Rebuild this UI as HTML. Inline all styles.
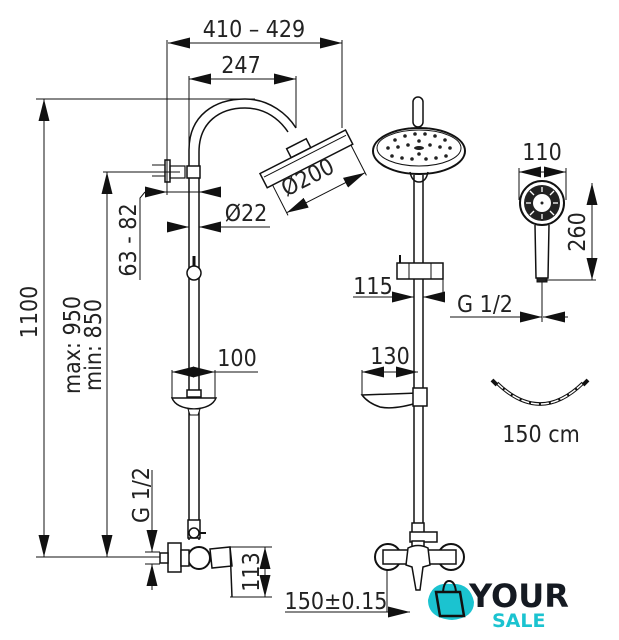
<!DOCTYPE html>
<html><head><meta charset="utf-8"><style>
html,body{margin:0;padding:0;background:#fff;width:619px;height:640px;overflow:hidden}
svg{display:block}
text{font-family:"DejaVu Sans Condensed","Liberation Sans Narrow","Liberation Sans",sans-serif;fill:#222;font-weight:300}
</style></head><body>
<svg width="619" height="640" viewBox="0 0 619 640" xmlns="http://www.w3.org/2000/svg">
<defs>
<marker id="b" viewBox="0 0 20 10" refX="20" refY="5" markerWidth="22" markerHeight="11" markerUnits="userSpaceOnUse" orient="auto-start-reverse"><path d="M0,0 L20,5 L0,10 z" fill="#111"/></marker>
</defs>
<g stroke="#111" fill="none" stroke-width="1">
<line x1="168" y1="43" x2="342" y2="43" marker-start="url(#b)" marker-end="url(#b)"/>
<line x1="189" y1="79" x2="296" y2="79" marker-start="url(#b)" marker-end="url(#b)"/>
<line x1="167" y1="40" x2="167" y2="195"/>
<line x1="189" y1="76" x2="189" y2="165"/>
<line x1="296" y1="76" x2="296" y2="128"/>
<line x1="342" y1="40" x2="342" y2="128"/>
<line x1="36" y1="99" x2="255" y2="99"/>
<line x1="44" y1="99" x2="44" y2="557" marker-start="url(#b)" marker-end="url(#b)"/>
<line x1="103" y1="172" x2="180" y2="172"/>
<line x1="107" y1="172" x2="107" y2="557" marker-start="url(#b)" marker-end="url(#b)"/>
<line x1="36" y1="557" x2="165" y2="557"/>
<path d="M189,165 L189,150 C189,115 215,99 245,99 C270,99 288,115 296,128" stroke-width="1.5"/>
<path d="M199,165 L199,152 C199,122 220,108 245,108 C266,108 280,120 288,132" stroke-width="1.5"/>
<g transform="rotate(-27 310 166)">
<rect x="262" y="150" width="96" height="16" stroke-width="1.5"/>
<line x1="264" y1="155" x2="356" y2="155"/>
<rect x="297" y="140" width="22" height="10" stroke-width="1.5"/>
<line x1="268" y1="166" x2="268" y2="200"/>
<line x1="356" y1="166" x2="356" y2="200"/>
<line x1="268" y1="197" x2="356" y2="197" marker-start="url(#b)" marker-end="url(#b)"/>
</g>
<line x1="189" y1="165" x2="189" y2="540" stroke-width="1.5"/>
<line x1="199" y1="165" x2="199" y2="540" stroke-width="1.5"/>
<rect x="187" y="166" width="13" height="12" fill="#fff" stroke-width="1.5"/>
<rect x="165" y="160" width="5" height="22" stroke-width="1.5"/>
<rect x="170" y="166" width="15" height="12" stroke-width="1.2"/>
<line x1="152" y1="165" x2="165" y2="165"/><line x1="152" y1="176" x2="165" y2="176"/>
<circle cx="194" cy="273" r="7" fill="#fff" stroke-width="1.5"/>
<line x1="194" y1="256" x2="194" y2="266" stroke-width="3"/>
<line x1="145" y1="192" x2="167" y2="192" marker-end="url(#b)"/>
<line x1="215" y1="192" x2="199" y2="192" marker-end="url(#b)"/>
<line x1="167" y1="192" x2="199" y2="192"/>
<path d="M140,280 L140,198 L145,192"/>
<line x1="168" y1="227" x2="189" y2="227" marker-end="url(#b)"/>
<line x1="270" y1="227" x2="199" y2="227" marker-end="url(#b)"/>
<line x1="172" y1="372" x2="215" y2="372" marker-start="url(#b)" marker-end="url(#b)"/>
<line x1="215" y1="372" x2="258" y2="372"/>
<line x1="172" y1="370" x2="172" y2="398"/><line x1="215" y1="370" x2="215" y2="398"/>
<rect x="187" y="390" width="14" height="7" fill="#fff" stroke-width="1.5"/>
<path d="M172,398 L216,398 Q212,408 194,409 Q176,408 172,398 z" fill="#fff" stroke-width="1.5"/>
<path d="M188,409 L200,409 L198,415 L190,415 z" fill="#fff"/>
<rect x="188" y="520" width="12" height="18" fill="#fff" stroke-width="1.5"/>
<circle cx="194" cy="533" r="5" fill="#fff" stroke-width="1.5"/>
<line x1="199" y1="533" x2="206" y2="533" stroke-width="2"/>
<circle cx="199" cy="558" r="11" fill="#fff" stroke-width="2"/>
<rect x="168" y="543" width="13" height="29" fill="#fff" stroke-width="1.5"/>
<rect x="181" y="550" width="8" height="16" fill="#fff" stroke-width="1.5"/>
<rect x="160" y="553" width="8" height="10" fill="#fff" stroke-width="1.5"/>
<path d="M210,549 L230,547 L232,566 L212,568 z" fill="#fff" stroke-width="1.5"/>
<path d="M230,547 L232,597" stroke-width="1.5"/>
<line x1="230" y1="547" x2="272" y2="547"/><line x1="230" y1="597" x2="272" y2="597"/>
<line x1="265" y1="547" x2="265" y2="597" marker-start="url(#b)" marker-end="url(#b)"/>
<line x1="152" y1="530" x2="152" y2="552" marker-end="url(#b)"/>
<line x1="152" y1="590" x2="152" y2="564" marker-end="url(#b)"/>
<line x1="152" y1="470" x2="152" y2="530"/>
<line x1="145" y1="552" x2="160" y2="552"/><line x1="145" y1="564" x2="160" y2="564"/>
<line x1="285" y1="612" x2="410" y2="612" marker-end="url(#b)"/>
<line x1="387" y1="555" x2="387" y2="612"/>

<rect x="413" y="97" width="10" height="30" rx="5" stroke-width="1.5"/>
<ellipse cx="419" cy="151" rx="46" ry="23" fill="#fff" stroke-width="2"/>
<ellipse cx="419" cy="148" rx="42" ry="18"/>
<g fill="#222" stroke="none">
<circle cx="395" cy="140" r="1.8"/><circle cx="405" cy="136" r="1.8"/><circle cx="415" cy="134" r="1.8"/><circle cx="425" cy="134" r="1.8"/><circle cx="435" cy="136" r="1.8"/><circle cx="445" cy="140" r="1.8"/>
<circle cx="388" cy="148" r="1.8"/><circle cx="398" cy="147" r="1.8"/><circle cx="408" cy="145" r="1.8"/><circle cx="430" cy="145" r="1.8"/><circle cx="440" cy="147" r="1.8"/><circle cx="450" cy="148" r="1.8"/>
<circle cx="392" cy="156" r="1.8"/><circle cx="402" cy="158" r="1.8"/><circle cx="412" cy="159" r="1.8"/><circle cx="426" cy="159" r="1.8"/><circle cx="436" cy="158" r="1.8"/><circle cx="446" cy="156" r="1.8"/>
<circle cx="419" cy="141" r="1.8"/><circle cx="419" cy="154" r="1.8"/><ellipse cx="419" cy="148" rx="5" ry="2"/>
</g>
<path d="M410,172 Q412,182 419,182 Q426,182 428,172" stroke-width="1.5"/>
<line x1="414" y1="175" x2="414" y2="528" stroke-width="1.5"/>
<line x1="423" y1="175" x2="423" y2="528" stroke-width="1.5"/>
<path d="M397,263 L443,263 L443,279 L397,279 z" fill="#fff" stroke-width="1.5"/>
<line x1="409" y1="263" x2="409" y2="279"/><line x1="431" y1="263" x2="431" y2="279"/>
<line x1="400" y1="255" x2="400" y2="263" stroke-width="2"/>
<line x1="353" y1="297" x2="414" y2="297" marker-end="url(#b)"/>
<line x1="442" y1="297" x2="423" y2="297" marker-end="url(#b)"/>
<line x1="443" y1="279" x2="443" y2="300"/>
<line x1="362" y1="372" x2="418" y2="372" marker-start="url(#b)" marker-end="url(#b)"/>
<line x1="362" y1="370" x2="362" y2="395"/>
<path d="M362,395 L418,393 L420,402 Q395,410 380,407 Q368,403 362,395 z" fill="#fff" stroke-width="1.5"/>
<rect x="413" y="388" width="14" height="18" fill="#fff" stroke-width="1.5"/>
<rect x="412" y="523" width="12" height="10" fill="#fff" stroke-width="1.5"/>
<rect x="410" y="532" width="27" height="10" fill="#fff" stroke-width="1.5"/>
<rect x="412" y="541" width="12" height="8" fill="#fff" stroke-width="1.5"/>
<ellipse cx="388" cy="557" rx="13" ry="13" fill="#fff" stroke-width="2"/>
<ellipse cx="451" cy="557" rx="13" ry="13" fill="#fff" stroke-width="2"/>
<rect x="383" y="550" width="73" height="14" fill="#fff" stroke-width="1.5"/>
<path d="M408,548 Q418,543 428,548 L430,565 L423,567 L420,590 L416,590 L412,567 L406,565 z" fill="#fff" stroke-width="1.5"/>

<line x1="519" y1="172" x2="566" y2="172" marker-start="url(#b)" marker-end="url(#b)"/>
<line x1="519" y1="168" x2="519" y2="200"/><line x1="566" y1="168" x2="566" y2="200"/>
<circle cx="542" cy="203" r="22" fill="#fff" stroke-width="2"/>
<circle cx="542" cy="203" r="18" fill="#222" stroke="none"/>
<circle cx="542" cy="203" r="9" fill="#fff" stroke="none"/>
<g stroke="#fff" stroke-width="1.3">
<line x1="542" y1="187" x2="542" y2="192"/><line x1="542" y1="214" x2="542" y2="219"/><line x1="526" y1="203" x2="531" y2="203"/><line x1="553" y1="203" x2="558" y2="203"/>
<line x1="530" y1="191" x2="534" y2="195"/><line x1="554" y1="191" x2="550" y2="195"/><line x1="530" y1="215" x2="534" y2="211"/><line x1="554" y1="215" x2="550" y2="211"/>
</g>
<circle cx="542" cy="203" r="1.5" fill="#222" stroke="none"/>
<path d="M535,225 L536,278 L548,278 L549,225" stroke-width="1.5"/>
<rect x="537" y="278" width="10" height="4" fill="#222"/>
<line x1="545" y1="280" x2="596" y2="280"/>
<line x1="592" y1="183" x2="592" y2="280" marker-start="url(#b)" marker-end="url(#b)"/>
<line x1="542" y1="282" x2="542" y2="322"/>
<line x1="450" y1="317" x2="542" y2="317" marker-end="url(#b)"/>
<line x1="568" y1="317" x2="543" y2="317" marker-end="url(#b)"/>
<path d="M497,383 Q540,425 583,383" stroke-width="3.5"/>
<path d="M497,383 Q540,425 583,383" stroke-width="1.5" stroke="#fff" stroke-dasharray="8 2"/>
<line x1="492" y1="380" x2="497" y2="385" stroke-width="4"/>
<line x1="588" y1="380" x2="583" y2="385" stroke-width="4"/>
</g>

<g font-size="23">
<text x="254" y="37" text-anchor="middle">410 – 429</text>
<text x="241" y="73" text-anchor="middle">247</text>
<text x="308" y="185" text-anchor="middle" transform="rotate(-27 308 178)">Ø200</text>
<text x="246" y="221" text-anchor="middle">Ø22</text>
<text x="237" y="366" text-anchor="middle">100</text>
<text transform="translate(37 312) rotate(-90)" text-anchor="middle">1100</text>
<text transform="translate(80 345) rotate(-90)" text-anchor="middle">max: 950</text>
<text transform="translate(101 345) rotate(-90)" text-anchor="middle">min: 850</text>
<text transform="translate(136 240) rotate(-90)" text-anchor="middle">63 - 82</text>
<text transform="translate(149 495) rotate(-90)" text-anchor="middle">G 1/2</text>
<text transform="translate(259 572) rotate(-90)" text-anchor="middle">113</text>
<text x="336" y="609" text-anchor="middle">150±0.15</text>
<text x="373" y="294" text-anchor="middle">115</text>
<text x="390" y="364" text-anchor="middle">130</text>
<text x="542" y="160" text-anchor="middle">110</text>
<text transform="translate(585 232) rotate(-90)" text-anchor="middle">260</text>
<text x="485" y="312" text-anchor="middle">G 1/2</text>
<text x="541" y="442" text-anchor="middle">150 cm</text>
</g>

<path d="M428,600 Q432,582 450,584 Q470,582 474,602 Q474,618 452,620 Q428,618 428,600 z" fill="#1bc3d0"/>
<path d="M436,592 L460,592 L464,616 L440,616 z" fill="none" stroke="#111" stroke-width="2.5"/>
<path d="M443,592 Q444,581 449,581 Q455,581 456,592" fill="none" stroke="#111" stroke-width="2"/>
<text x="469" y="607" font-size="32" style="font-weight:900;fill:#151a22;font-family:'DejaVu Sans','Liberation Sans',sans-serif">YOUR</text>
<text x="492" y="627" font-size="19" style="font-weight:900;fill:#1bc3d0;font-family:'DejaVu Sans','Liberation Sans',sans-serif">SALE</text>
</svg>
</body></html>
